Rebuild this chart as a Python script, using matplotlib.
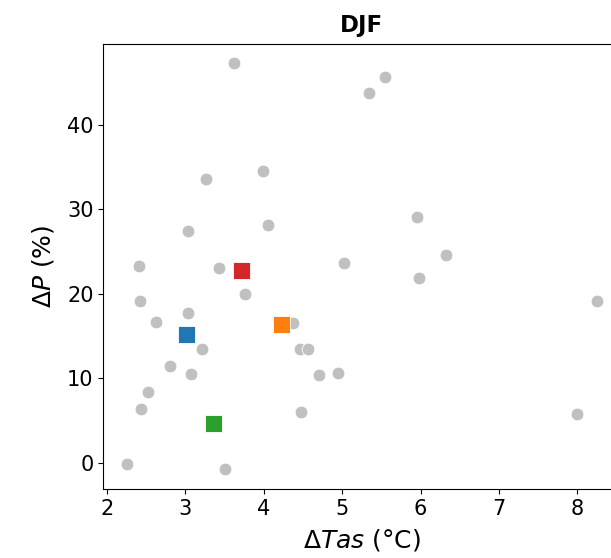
import matplotlib
matplotlib.use("Agg")
import matplotlib.pyplot as plt

# --- data -------------------------------------------------------------------
# grey dots: individual models (dTas in degC, dP in %)
model_dtas = [3.62, 5.55, 5.34, 3.26, 3.99, 5.95, 3.04, 4.05, 6.32, 2.41,
              3.43, 5.03, 5.98, 2.42, 3.76, 8.25, 3.04, 2.63, 4.37, 3.21,
              4.46, 4.57, 2.81, 3.07, 4.70, 4.95, 2.52, 2.44, 4.47, 8.00,
              2.26, 3.50]
model_dp = [47.3, 45.6, 43.8, 33.6, 34.5, 29.1, 27.4, 28.1, 24.6, 23.3,
            23.1, 23.6, 21.8, 19.1, 20.0, 19.1, 17.7, 16.7, 16.5, 13.4,
            13.4, 13.4, 11.4, 10.5, 10.4, 10.6, 8.4, 6.3, 6.0, 5.8,
            -0.2, -0.8]

# coloured squares: highlighted members
sel_dtas = [3.02, 4.23, 3.36, 3.71]
sel_dp = [15.2, 16.4, 4.6, 22.7]
sel_colors = ["tab:blue", "tab:orange", "tab:green", "tab:red"]

# --- plot -------------------------------------------------------------------
fig = plt.figure(figsize=(6.11, 5.58), dpi=100)
# axes runs past the right edge on purpose (reference is cropped there)
ax = fig.add_axes([0.169, 0.1231, 0.8465, 0.798])

ax.scatter(model_dtas, model_dp, s=84, color="silver",
           edgecolor="white", linewidth=0.6, zorder=2)
ax.scatter(sel_dtas, sel_dp, s=150, marker="s", color=sel_colors,
           edgecolor="white", linewidth=0.6, zorder=3)

ax.set_xlim(1.953, 8.55)
ax.set_ylim(-3.15, 49.55)
ax.set_xticks(range(2, 9))
ax.set_yticks([0, 10, 20, 30, 40])
ax.tick_params(labelsize=15)

ax.set_xlabel(r"$\Delta Tas$ (°C)", fontsize=18, labelpad=6)
ax.set_ylabel(r"$\Delta P$ (%)", fontsize=18, labelpad=8)
ax.set_title("DJF", fontsize=16.5, fontweight="bold", pad=9)

fig.savefig("out.png", dpi=100)
